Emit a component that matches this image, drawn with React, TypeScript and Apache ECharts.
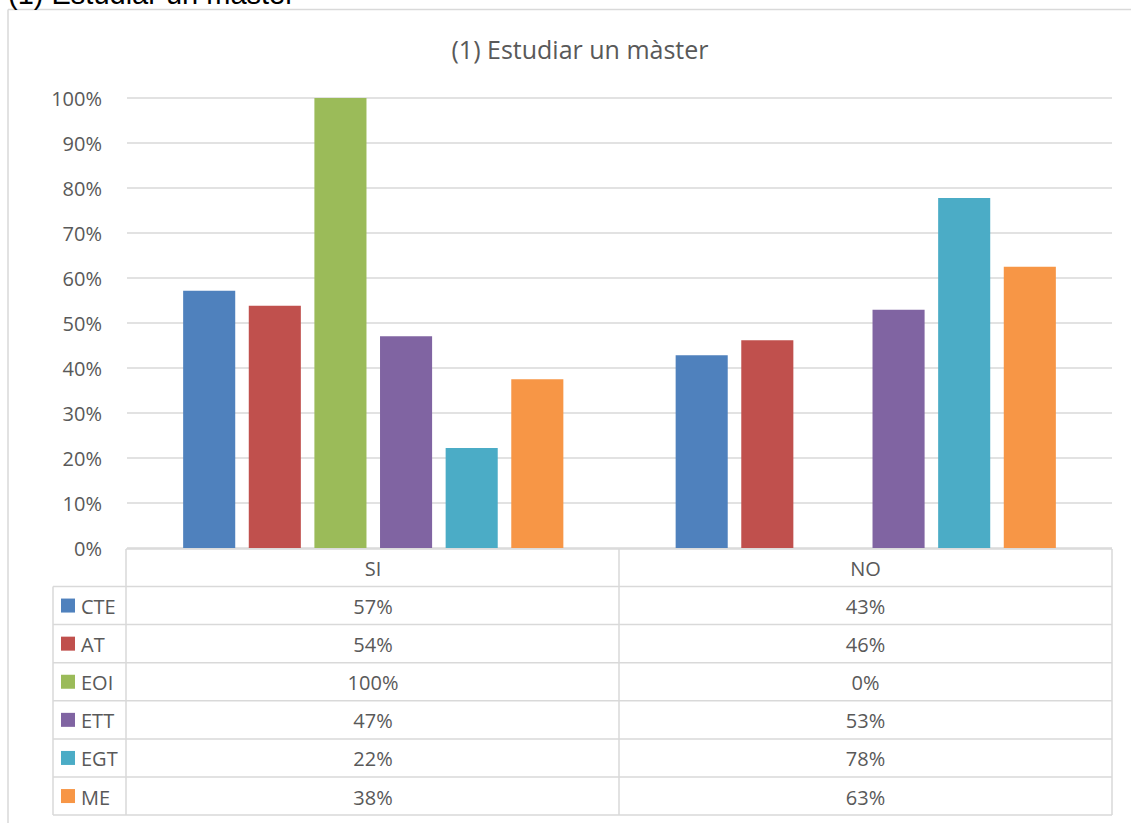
import React, { useEffect, useRef } from "react";
import * as echarts from "echarts";

const categories = ["SI", "NO"];
const seriesNames = ["CTE", "AT", "EOI", "ETT", "EGT", "ME"];
const seriesColors = ["#4F81BD", "#C0504D", "#9BBB59", "#8064A2", "#4BACC6", "#F79646"];
const cteValues = [57.14, 42.86];
const atValues = [53.85, 46.15];
const eoiValues = [100, 0];
const ettValues = [47.06, 52.94];
const egtValues = [22.22, 77.78];
const meValues = [37.5, 62.5];
const allValues = [cteValues, atValues, eoiValues, ettValues, egtValues, meValues];
const yTicks = [0, 10, 20, 30, 40, 50, 60, 70, 80, 90, 100];

const FONT = "'Open Sans', sans-serif";
const TXT = "#595959";
const LINE = "#d9d9d9";

export default function App() {
  const ref = useRef<HTMLDivElement>(null);
  useEffect(() => {
    if (!ref.current) return;
    const chart = echarts.init(ref.current, null, { renderer: "svg" });

    const gridLeft = 127;
    const gridRight = 1112;
    const colMid = 619;
    const labelLeft = 53;
    const headTop = 549;
    const rowTop = 586.5;
    const rowH = 38.1;
    const tableBottom = rowTop + rowH * 6;

    const g: any[] = [];
    const ln = (x1: number, y1: number, x2: number, y2: number, w = 1.5) =>
      g.push({ type: "line", shape: { x1, y1, x2, y2 }, style: { stroke: LINE, lineWidth: w }, silent: true });

    // outer frame (partially visible)
    ln(8, 9.5, 1131, 9.5, 1.5);
    ln(8, 9.5, 8, 823, 1.5);

    // top cut text (partly outside the page, as in the reference)
    g.push({
      type: "text",
      x: 8,
      y: 8,
      style: { text: "(1) Estudiar un màster", fill: "#000", font: "29px 'Liberation Sans', Arial, sans-serif", textVerticalAlign: "bottom", textAlign: "left" },
    });

    // table lines
    ln(gridLeft - 1, headTop, gridRight, headTop);
    for (let i = 0; i <= 6; i++) ln(labelLeft, rowTop + rowH * i, gridRight, rowTop + rowH * i);
    ln(labelLeft, rowTop, labelLeft, tableBottom);
    ln(gridLeft - 1, headTop, gridLeft - 1, tableBottom);
    ln(colMid, headTop, colMid, tableBottom);
    ln(gridRight, headTop, gridRight, tableBottom);

    const colCenters = [(gridLeft + colMid) / 2, (colMid + gridRight) / 2];
    categories.forEach((c, j) => {
      g.push({ type: "text", x: colCenters[j], y: (headTop + rowTop) / 2 + 1, style: { text: c, fill: TXT, font: `20px ${FONT}`, textAlign: "center", textVerticalAlign: "middle" } });
    });
    seriesNames.forEach((name, i) => {
      const cy = rowTop + rowH * (i + 0.5);
      g.push({ type: "rect", shape: { x: 61, y: cy - 7, width: 14, height: 14 }, style: { fill: seriesColors[i] } });
      g.push({ type: "text", x: 81, y: cy + 1, style: { text: name, fill: TXT, font: `20px ${FONT}`, textAlign: "left", textVerticalAlign: "middle" } });
      allValues[i].forEach((v, j) => {
        g.push({ type: "text", x: colCenters[j], y: cy + 1, style: { text: Math.round(v) + "%", fill: TXT, font: `20px ${FONT}`, textAlign: "center", textVerticalAlign: "middle" } });
      });
    });

    chart.setOption({
      animation: false,
      title: {
        text: "(1) Estudiar un màster",
        left: 575,
        top: 31,
        textAlign: "center",
        textStyle: { fontFamily: FONT, fontSize: 25, fontWeight: "normal", color: TXT },
      },
      grid: { left: gridLeft, right: 1131 - gridRight, top: 98, height: 450, containLabel: false },
      xAxis: {
        type: "category",
        data: categories,
        axisLine: { show: false },
        axisTick: { show: false },
        axisLabel: { show: false },
      },
      yAxis: {
        type: "value",
        min: 0,
        max: 100,
        interval: 10,
        axisLine: { show: false },
        axisTick: { show: false },
        axisLabel: {
          formatter: (v: number) => (yTicks.includes(v) ? v + "%" : ""),
          color: TXT,
          fontFamily: FONT,
          fontSize: 20,
          margin: 25,
        },
        splitLine: { lineStyle: { color: LINE, width: 1.5 } },
      },
      series: seriesNames.map((name, i) => ({
        name,
        type: "bar",
        data: allValues[i],
        itemStyle: { color: seriesColors[i] },
        barGap: "26%",
        barCategoryGap: "22.8%",
      })),
      graphic: g,
    });
    return () => chart.dispose();
  }, []);
  return <div ref={ref} style={{ position: "fixed", left: 0, top: 0, width: 1131, height: 823, background: "#fff" }} />;
}
